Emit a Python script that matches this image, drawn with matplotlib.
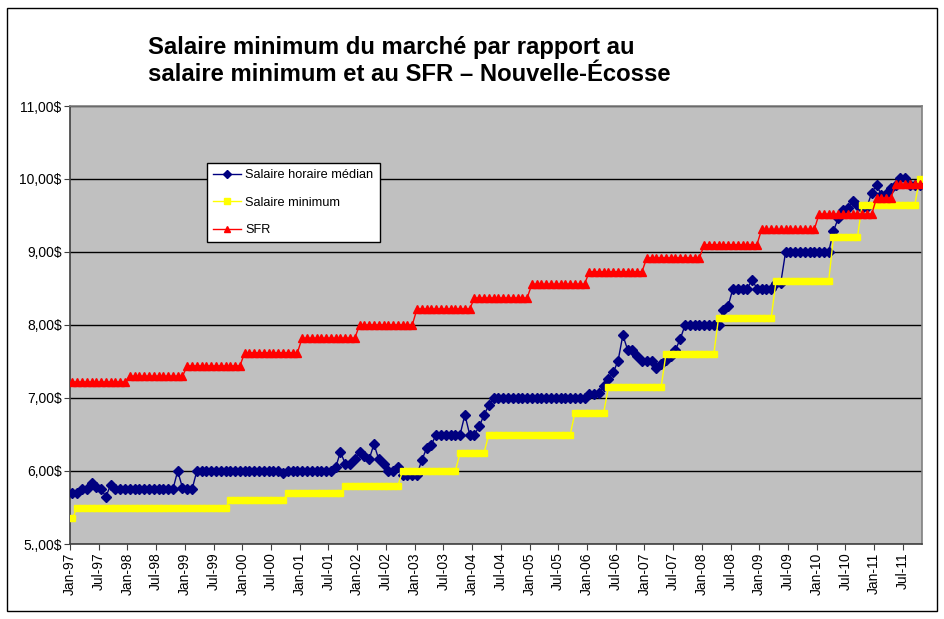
import numpy as np
import matplotlib
matplotlib.use("Agg")
import matplotlib.pyplot as plt
import matplotlib.transforms as mtransforms
from matplotlib.patches import Rectangle

plt.rcParams['font.family'] = ['Liberation Sans', 'DejaVu Sans']

# monthly data, Jan-97 .. Oct-11 (178 months)
median_wage = [
    5.70, 5.70, 5.76, 5.76, 5.83, 5.78, 5.75, 5.65, 5.81, 5.75, 5.75, 5.75,  # 1997
    5.75, 5.75, 5.75, 5.75, 5.75, 5.75, 5.75, 5.75, 5.75, 5.75, 6.00, 5.77,  # 1998
    5.75, 5.75, 6.00, 6.00, 6.00, 6.00, 6.00, 6.00, 6.00, 6.00, 6.00, 6.00,  # 1999
    6.00, 6.00, 6.00, 6.00, 6.00, 6.00, 6.00, 6.00, 5.97, 6.00, 6.00, 6.00,  # 2000
    6.00, 6.00, 6.00, 6.00, 6.00, 6.00, 6.00, 6.05, 6.26, 6.10, 6.10, 6.17,  # 2001
    6.26, 6.21, 6.16, 6.37, 6.16, 6.10, 6.00, 6.00, 6.05, 5.95, 5.95, 5.95,  # 2002
    5.95, 6.15, 6.31, 6.36, 6.50, 6.50, 6.50, 6.50, 6.50, 6.50, 6.77, 6.50,  # 2003
    6.50, 6.61, 6.77, 6.90, 7.00, 7.00, 7.00, 7.00, 7.00, 7.00, 7.00, 7.00,  # 2004
    7.00, 7.00, 7.00, 7.00, 7.00, 7.00, 7.00, 7.00, 7.00, 7.00, 7.00, 7.00,  # 2005
    7.06, 7.06, 7.07, 7.16, 7.26, 7.35, 7.51, 7.86, 7.66, 7.66, 7.57, 7.51,  # 2006
    7.51, 7.51, 7.41, 7.46, 7.52, 7.58, 7.66, 7.81, 8.00, 8.00, 8.00, 8.00,  # 2007
    8.00, 8.00, 8.00, 8.00, 8.21, 8.26, 8.50, 8.50, 8.50, 8.50, 8.62, 8.50,  # 2008
    8.50, 8.50, 8.50, 8.58, 8.58, 9.00, 9.00, 9.00, 9.00, 9.00, 9.00, 9.00,  # 2009
    9.00, 9.00, 9.00, 9.29, 9.46, 9.58, 9.60, 9.70, 9.65, 9.60, 9.62, 9.81,  # 2010
    9.92, 9.78, 9.80, 9.88, 9.92, 10.02, 10.02, 9.92, 9.92, 9.92,            # 2011
]

# minimum wage levels and how many months each lasted
min_wage_levels = [5.35, 5.50, 5.60, 5.70, 5.80, 6.00, 6.25, 6.50, 6.80,
                   7.15, 7.60, 8.10, 8.60, 9.20, 9.65, 10.00]
min_wage_months = [1, 32, 12, 12, 12, 12, 6, 18, 7, 12, 11, 12, 12, 6, 12, 1]

# SFR, yearly (2011 split in two)
sfr_levels = [7.22, 7.30, 7.44, 7.62, 7.82, 8.00, 8.22, 8.37, 8.56, 8.73,
              8.92, 9.10, 9.31, 9.52, 9.74, 9.93]
sfr_months = [12] * 14 + [4, 6]

ytick_labels = ['5.,00$', '6,00$', '7,00$', '8,00$', '9,00$', '10,00$', '11,00$']

min_wage = np.repeat(min_wage_levels, min_wage_months)
sfr = np.repeat(sfr_levels, sfr_months)
n = len(median_wage)
x = np.arange(n) + 0.5

fig = plt.figure(figsize=(9.45, 6.19), dpi=100)
ax = fig.add_axes([70 / 945, 1 - 544 / 619, 852 / 945, 438 / 619])
ax.set_facecolor('#C0C0C0')

ax.plot(x, median_wage, color='#000080', lw=1, marker='D', ms=5.3,
        mec='#000080', mfc='#000080', label='Salaire horaire médian', zorder=3)
ax.plot(x, min_wage, color='#FFFF00', lw=1, marker='s', ms=5,
        mec='#FFFF00', mfc='#FFFF00', label='Salaire minimum', zorder=4)
ax.plot(x, sfr, color='#FF0000', lw=1, marker='^', ms=5.5,
        mec='#FF0000', mfc='#FF0000', label='SFR', zorder=5)

ax.set_xlim(0, n)
ax.set_ylim(5, 11)
ax.set_yticks(range(5, 12))
ax.set_yticklabels(ytick_labels)

ticks = np.arange(0, n - 2, 6)
labels = [('Jan' if k % 2 == 0 else 'Jul') + '-%02d' % ((97 + k // 2) % 100)
          for k in range(len(ticks))]
ax.set_xticks(ticks)
ax.set_xticklabels(labels, rotation=90)
offset = mtransforms.ScaledTranslation(4 / 100, 0, fig.dpi_scale_trans)
for lbl in ax.get_xticklabels():
    lbl.set_transform(lbl.get_transform() + offset)

ax.yaxis.grid(True, color='black', lw=1)
ax.set_axisbelow(True)
ax.tick_params(direction='out', length=4, color='#404040', labelsize=10, pad=2)
for side in ['left', 'bottom']:
    ax.spines[side].set_color('#404040')
for side in ['top', 'right']:
    ax.spines[side].set_color('#808080')
for s in ax.spines.values():
    s.set_linewidth(1.2)

leg = ax.legend(loc='upper left', bbox_to_anchor=(207 / 945, 1 - 163 / 619),
                bbox_transform=fig.transFigure, fancybox=False, edgecolor='black',
                framealpha=1, fontsize=9.2, handlelength=2.2, handletextpad=0.3,
                labelspacing=1.2, borderpad=0.5, borderaxespad=0, numpoints=1,
                markerscale=0.8)
leg.get_frame().set_linewidth(1)

fig.text(148 / 945, 1 - 54 / 619, 'Salaire minimum du marché par rapport au',
         fontsize=17.2, fontweight='bold', va='baseline', ha='left')
fig.text(148 / 945, 1 - 81 / 619, 'salaire minimum et au SFR – Nouvelle-Écosse',
         fontsize=17.2, fontweight='bold', va='baseline', ha='left')

fig.patches.append(Rectangle((7 / 945, 1 - 611 / 619), 930 / 945, 603 / 619,
                             transform=fig.transFigure, fill=False,
                             edgecolor='black', lw=1))

fig.savefig('out.png', dpi=100)
